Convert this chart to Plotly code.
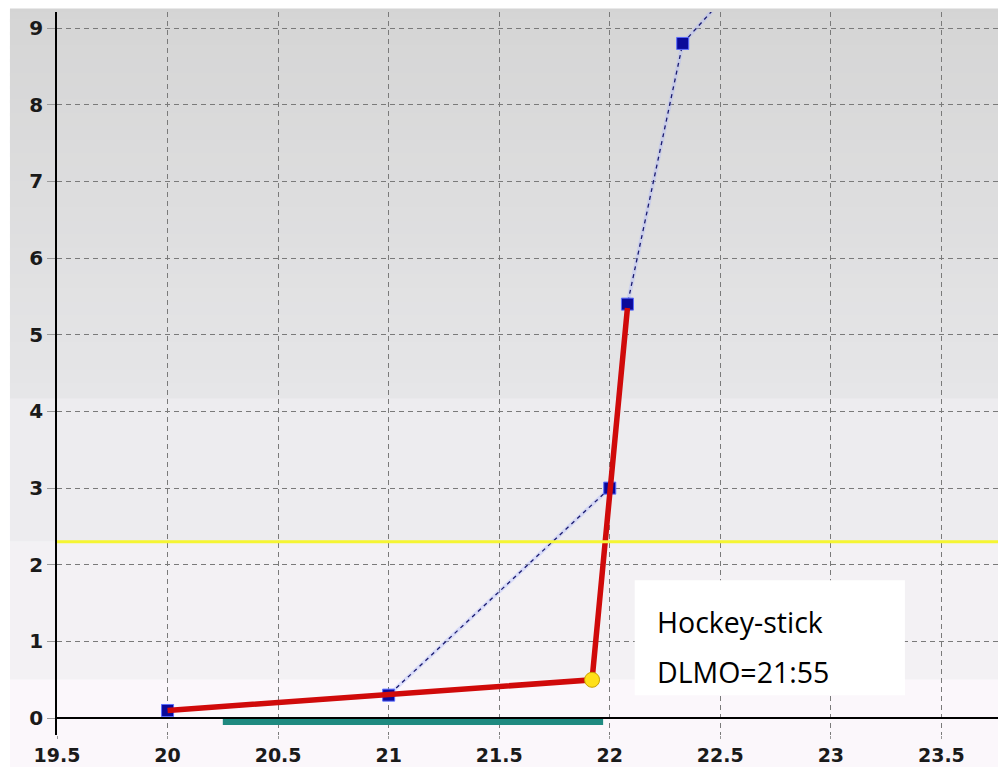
import plotly.graph_objects as go

# ---- data ----
sample_x = [20, 21, 22, 22.08, 22.33, 22.58]
sample_y = [0.1, 0.3, 3.0, 5.4, 8.8, 9.6]

stick_x = [20, 21, 21.92, 22.08]
stick_y = [0.1, 0.3, 0.5, 5.35]

dlmo_x = [21.92]
dlmo_y = [0.5]

threshold = 2.3
bar_x = [20.25, 21.97]
bar_y = [-0.05, -0.05]

x_ticks = [19.5, 20, 20.5, 21, 21.5, 22, 22.5, 23, 23.5]
x_tick_text = ["19.5", "20", "20.5", "21", "21.5", "22", "22.5", "23", "23.5"]
y_ticks = [0, 1, 2, 3, 4, 5, 6, 7, 8, 9]

label_lines = ["Hockey-stick", "DLMO=21:55"]

X_RANGE = [19.5, 23.756]
Y_RANGE = [-0.22, 9.21]


def py(v):
    return (v - Y_RANGE[0]) / (Y_RANGE[1] - Y_RANGE[0])


fig = go.Figure()

# halo under dashed line
fig.add_trace(go.Scatter(x=sample_x, y=sample_y, mode="lines",
                         line=dict(color="rgba(170,180,255,0.35)", width=4),
                         hoverinfo="skip", showlegend=False))
fig.add_trace(go.Scatter(x=sample_x, y=sample_y, mode="lines",
                         line=dict(color="#1a1a70", width=1.3, dash="4px,4px"),
                         showlegend=False))
fig.add_trace(go.Scatter(x=bar_x, y=bar_y, mode="lines",
                         line=dict(color="#1f8a80", width=6),
                         showlegend=False))
fig.add_trace(go.Scatter(x=sample_x[:5], y=sample_y[:5], mode="markers",
                         marker=dict(symbol="square", size=12, color="#0a0a9a",
                                     line=dict(color="#5a6cff", width=1)),
                         showlegend=False))
fig.add_trace(go.Scatter(x=stick_x, y=stick_y, mode="lines",
                         line=dict(color="#d00a0a", width=5.5),
                         showlegend=False))
fig.add_trace(go.Scatter(x=dlmo_x, y=dlmo_y, mode="markers",
                         marker=dict(symbol="circle", size=15, color="#ffe01a",
                                     line=dict(color="#c8a000", width=1)),
                         showlegend=False))

shapes = []
left = -0.05
# background gradient (top)
top_v, mid_v = 9.45, 4.17
n = 30
c0 = (212, 212, 212)
c1 = (230, 230, 232)
for i in range(n):
    a = top_v - (top_v - mid_v) * i / n
    b = top_v - (top_v - mid_v) * (i + 1) / n
    t = (i + 0.5) / n
    col = tuple(round(c0[k] + (c1[k] - c0[k]) * t) for k in range(3))
    y1 = min(py(a) + 0.003, 1.0)
    shapes.append(dict(type="rect", xref="paper", yref="paper", x0=left, x1=1,
                       y0=py(b) - 0.002, y1=y1, fillcolor="rgb(%d,%d,%d)" % col,
                       line=dict(width=0), layer="below"))
bands = [(4.17, 2.3, "#edecef"), (2.3, 0.5, "#f3f1f4"), (0.5, None, "#fbf7fb")]
for a, b, col in bands:
    y0 = py(b) if b is not None else -40 / 723
    shapes.append(dict(type="rect", xref="paper", yref="paper", x0=left, x1=1,
                       y0=y0, y1=py(a), fillcolor=col,
                       line=dict(width=0), layer="below"))
# threshold line
shapes.append(dict(type="line", xref="x", yref="y", x0=X_RANGE[0], x1=X_RANGE[1],
                   y0=threshold, y1=threshold,
                   line=dict(color="#f5f532", width=3), layer="above"))
# white label box
shapes.append(dict(type="rect", xref="x", yref="y", x0=22.113, x1=23.335,
                   y0=0.30, y1=1.80, fillcolor="white",
                   line=dict(width=0), layer="above"))

annotations = [
    dict(x=22.204, y=1.25, xref="x", yref="y", text=label_lines[0], showarrow=False,
         xanchor="left", yanchor="middle",
         font=dict(family="Open Sans", size=28.5, color="#000")),
    dict(x=22.204, y=0.60, xref="x", yref="y", text=label_lines[1], showarrow=False,
         xanchor="left", yanchor="middle",
         font=dict(family="Open Sans", size=28.5, color="#000")),
]

ytickfont = dict(family="DejaVu Sans", size=20, color="#1a1a1a", weight="bold")
xtickfont = dict(family="DejaVu Sans", size=19, color="#1a1a1a", weight="bold")

fig.update_layout(
    width=1002, height=767,
    margin=dict(l=57, r=4, t=12, b=32),
    paper_bgcolor="white",
    plot_bgcolor="rgba(0,0,0,0)",
    shapes=shapes,
    annotations=annotations,
    xaxis=dict(range=X_RANGE, tickvals=x_ticks, ticktext=x_tick_text,
               showgrid=True, gridcolor="#7a7a7a", griddash="5px,4px", gridwidth=1,
               ticks="outside", ticklen=3, tickcolor="#999", tickwidth=1,
               showline=False, zeroline=False, tickfont=xtickfont, fixedrange=True,
               automargin=False),
    yaxis=dict(range=Y_RANGE, tickvals=y_ticks,
               showgrid=True, gridcolor="#7a7a7a", griddash="5px,4px", gridwidth=1,
               ticks="outside", ticklen=8, tickcolor="#999", tickwidth=1,
               showline=True, linecolor="black", linewidth=1.5,
               zeroline=True, zerolinecolor="black", zerolinewidth=1.5,
               tickfont=ytickfont, fixedrange=True, automargin=False),
)

fig.write_html("out.html", config={"displayModeBar": False},
               post_script="document.body.style.margin='0';document.body.style.overflow='hidden';")
